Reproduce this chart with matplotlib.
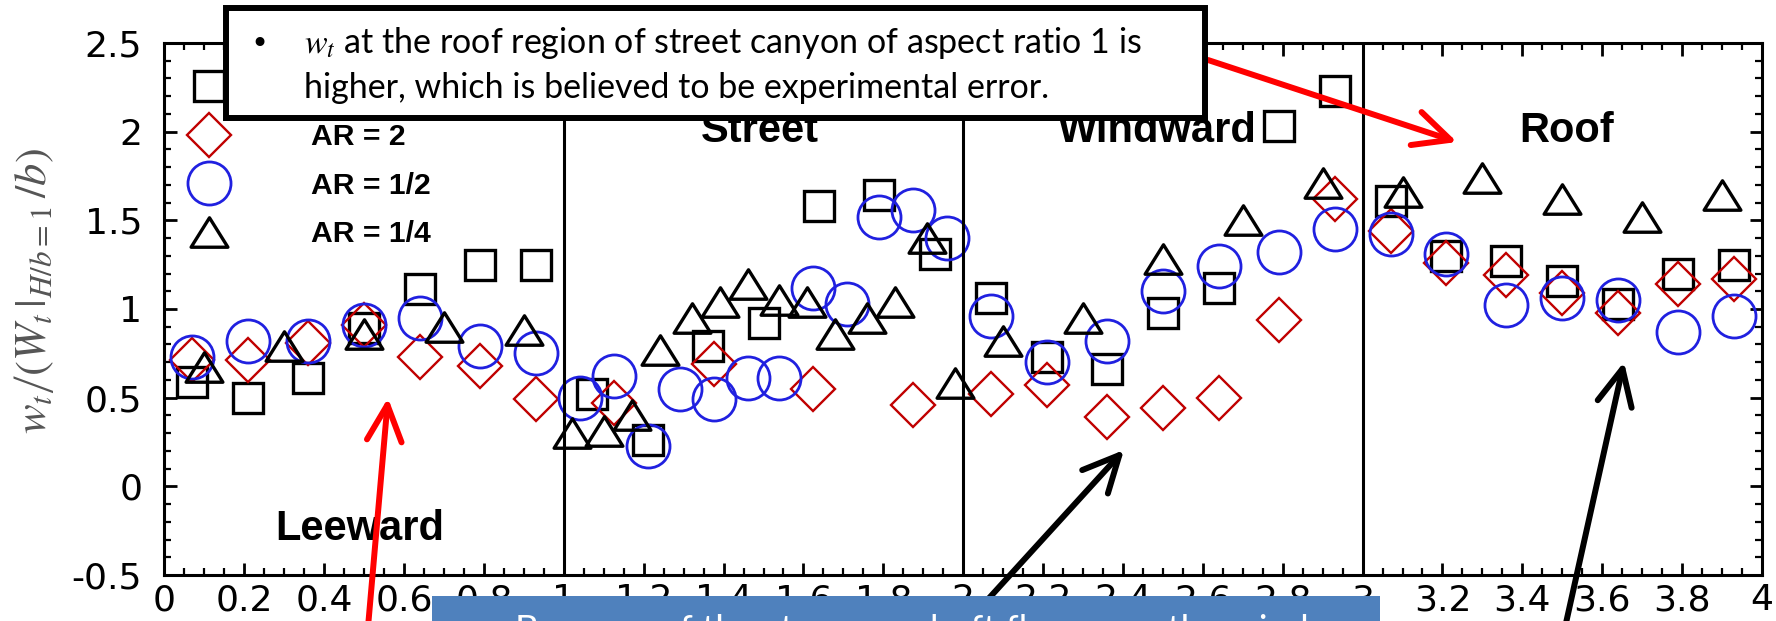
import numpy as np
import matplotlib
matplotlib.use('Agg')
import matplotlib.pyplot as plt
from matplotlib.patches import Rectangle, FancyArrowPatch, ArrowStyle
from matplotlib.path import Path
from matplotlib.ticker import MultipleLocator, FormatStrFormatter

plt.rcParams['font.family'] = 'Liberation Sans'
plt.rcParams['mathtext.fontset'] = 'stix'

# AR = 1 (squares)
x_ar1 = [0.07, 0.21, 0.36, 0.50, 0.64, 0.79, 0.93,
         1.07, 1.21, 1.36, 1.50, 1.64, 1.79, 1.93,
         2.07, 2.21, 2.36, 2.50, 2.64, 2.79, 2.93,
         3.07, 3.21, 3.36, 3.50, 3.64, 3.79, 3.93]
y_ar1 = [0.59, 0.50, 0.61, 0.89, 1.11, 1.25, 1.25,
         0.52, 0.26, 0.79, 0.92, 1.58, 1.64, 1.31,
         1.06, 0.73, 0.66, 0.98, 1.12, 2.03, 2.23,
         1.61, 1.30, 1.27, 1.16, 1.03, 1.20, 1.25]

# AR = 2 (diamonds)
x_ar2 = [0.07, 0.21, 0.36, 0.50, 0.64, 0.79, 0.93,
         1.125, 1.375, 1.625, 1.875,
         2.07, 2.21, 2.36, 2.50, 2.64, 2.79, 2.93,
         3.07, 3.21, 3.36, 3.50, 3.64, 3.79, 3.93]
y_ar2 = [0.71, 0.71, 0.81, 0.91, 0.73, 0.68, 0.49,
         0.47, 0.69, 0.55, 0.46,
         0.52, 0.57, 0.39, 0.44, 0.50, 0.94, 1.62,
         1.44, 1.26, 1.19, 1.09, 0.98, 1.14, 1.17]

# AR = 1/2 (circles)
x_ar12 = [0.07, 0.21, 0.36, 0.50, 0.64, 0.79, 0.93,
          1.04, 1.125, 1.21, 1.29, 1.375, 1.46, 1.54, 1.625, 1.71, 1.79, 1.875, 1.96,
          2.07, 2.21, 2.36, 2.50, 2.64, 2.79, 2.93,
          3.07, 3.21, 3.36, 3.50, 3.64, 3.79, 3.93]
y_ar12 = [0.73, 0.82, 0.82, 0.91, 0.95, 0.79, 0.75,
          0.50, 0.62, 0.23, 0.55, 0.49, 0.61, 0.61, 1.12, 1.03, 1.52, 1.56, 1.40,
          0.96, 0.70, 0.82, 1.10, 1.24, 1.32, 1.45,
          1.42, 1.31, 1.02, 1.06, 1.05, 0.87, 0.96]

# AR = 1/4 (triangles)
x_ar14 = [0.10, 0.30, 0.50, 0.70, 0.90,
          1.02, 1.10, 1.17, 1.24, 1.32, 1.39, 1.46, 1.54, 1.61, 1.68, 1.76, 1.83, 1.91, 1.98,
          2.10, 2.30, 2.50, 2.70, 2.90,
          3.10, 3.30, 3.50, 3.70, 3.90]
y_ar14 = [0.67, 0.79, 0.86, 0.90, 0.88,
          0.30, 0.31, 0.40, 0.77, 0.95, 1.04, 1.14, 1.05, 1.04, 0.86, 0.95, 1.04, 1.40, 0.58,
          0.82, 0.95, 1.28, 1.50, 1.71,
          1.66, 1.74, 1.62, 1.52, 1.64]

regions = ['Leeward', 'Street', 'Windward', 'Roof']
region_x = [0.49, 1.49, 2.485, 3.51]
region_y = [-0.30, 1.944, 1.944, 1.944]
region_bounds = [1, 2, 3]

W, H = 1776, 621
fig = plt.figure(figsize=(W / 100, H / 100), dpi=100)
ax = fig.add_axes([0.0926, 0.0741, 0.8995, 0.8567])

def px(x, y):
    # image pixel (from top-left) -> figure fraction
    return (x / W, 1 - y / H)

tri = Path([(-1, -0.8), (1, -0.8), (0, 0.8), (-1, -0.8)], closed=True)
ax.plot(x_ar1, y_ar1, ls='none', marker='s', ms=22, mfc='none', mec='black', mew=2.4, label='AR = 1')
ax.plot(x_ar2, y_ar2, ls='none', marker='D', ms=22, mfc='none', mec='#c00000', mew=1.7, label='AR = 2')
ax.plot(x_ar12, y_ar12, ls='none', marker='o', ms=31, mfc='none', mec='#2020e0', mew=2.0, label='AR = 1/2')
ax.plot(x_ar14, y_ar14, ls='none', marker=tri, ms=26.5, mfc='none', mec='black', mew=2.4, label='AR = 1/4')

for b in region_bounds:
    ax.axvline(b, color='black', lw=2.2)

for name, rx, ry in zip(regions, region_x, region_y):
    ax.text(rx, ry, name, ha='center', va='baseline', fontsize=30, fontweight='bold')

ax.set_xlim(0, 4)
ax.set_ylim(-0.5, 2.5)
ax.xaxis.set_major_locator(MultipleLocator(0.2))
ax.xaxis.set_minor_locator(MultipleLocator(0.05))
ax.yaxis.set_major_locator(MultipleLocator(0.5))
ax.yaxis.set_minor_locator(MultipleLocator(0.1))
ax.xaxis.set_major_formatter(FormatStrFormatter('%g'))
ax.yaxis.set_major_formatter(FormatStrFormatter('%g'))
ax.tick_params(which='both', direction='in', top=True, right=True)
ax.tick_params(which='major', length=9, width=2, labelsize=26, labelfontfamily='DejaVu Sans')
ax.tick_params(which='minor', length=5, width=1.6)
ax.tick_params(axis='x', which='major', pad=6)
ax.tick_params(axis='y', which='major', pad=16)
for s in ax.spines.values():
    s.set_linewidth(2.2)

leg = ax.legend(loc='upper left', bbox_to_anchor=(0.0013, 0.963), borderaxespad=0,
                frameon=False, numpoints=1, handlelength=2.0, handletextpad=2.4,
                labelspacing=0.68, prop={'weight': 'bold', 'size': 21.7})

fig.text(34 / W, 1 - 291 / H, r'$w_t\left/\left(W_t\,|_{H/b=1}\,/b\right)\right.$',
         rotation=90, ha='center', va='center', color='#555555', fontsize=32)

# call-out box at the top
box = Rectangle(px(226, 118), (1205 - 226) / W, (118 - 8) / H, transform=fig.transFigure,
                facecolor='white', edgecolor='black', lw=4.3, zorder=10)
fig.add_artist(box)
fig.text(*px(250, 53), '\u2022', fontsize=22, va='baseline', ha='left', zorder=11, family='DejaVu Sans')
fig.text(*px(304, 53), r'$w_t$ at the roof region of street canyon of aspect ratio 1 is',
         fontsize=24.5, va='baseline', ha='left', zorder=11, family='Lato')
fig.text(*px(304, 98), 'higher, which is believed to be experimental error.',
         fontsize=24.5, va='baseline', ha='left', zorder=11, family='Lato')

# blue box at the bottom
blue = Rectangle(px(432, 640), (1380 - 432) / W, (640 - 596) / H, transform=fig.transFigure,
                 facecolor='#4f81bd', edgecolor='none', zorder=10)
fig.add_artist(blue)
fig.text(*px(515, 614), 'Because of the strong updraft flow near the windward wall and',
         color='white', fontsize=26.5, ha='left', va='top', zorder=11, family='Lato')

def arrow(start, tip, color):
    a = FancyArrowPatch(px(*start), px(*tip), transform=fig.transFigure,
                        arrowstyle=ArrowStyle('->', head_length=26, head_width=12.5),
                        mutation_scale=1, lw=4.3, color=color, shrinkA=0, shrinkB=0,
                        zorder=9, capstyle='round', joinstyle='round')
    fig.add_artist(a)

arrow((1208, 60), (1457, 142), '#ff0000')
arrow((366, 650), (388, 398), '#ff0000')
arrow((960, 630), (1124, 450), 'black')
arrow((1560, 650), (1624, 362), 'black')

fig.savefig('out.png', dpi=100, facecolor='white')
